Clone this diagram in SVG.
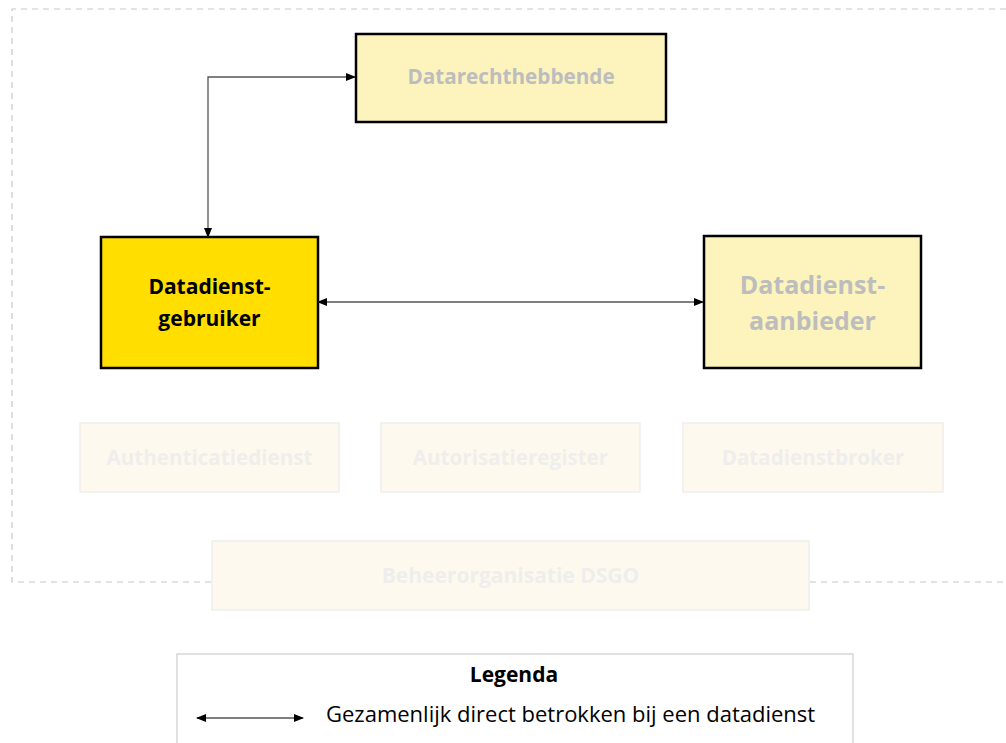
<svg xmlns="http://www.w3.org/2000/svg" width="1006" height="743" viewBox="0 0 1006 743">
<defs>
<style>
.main{stroke:#000;stroke-width:2.5}
.lite{fill:#FCF3BD}
.gold{fill:#FFDE00}
.faint{fill:#FDF9EE;stroke:#EEEEEE;stroke-width:1.5}
.t{font-family:"Open Sans","Liberation Sans",sans-serif;font-weight:bold;text-anchor:middle}
.grey{fill:#BDBDBD}
.ft{fill:#EFEEEC}
.conn{stroke:#555;stroke-width:1.3;fill:none}
</style>
<marker id="ah" markerWidth="10" markerHeight="8" refX="9" refY="4" orient="auto-start-reverse" markerUnits="userSpaceOnUse">
<path d="M0,0 L10,4 L0,8 Z" fill="#000"/>
</marker>
</defs>
<rect width="1006" height="743" fill="#fff"/>
<path d="M1006,9 H12 V582 H1006" fill="none" stroke="#C8C8C8" stroke-width="1.2" stroke-dasharray="6,5"/>

<g id="datarechthebbende">
<rect x="356" y="34" width="310" height="88" class="lite main"/>
<text x="511" y="84" class="t grey" font-size="20.7">Datarechthebbende</text>
</g>
<g id="datadienstgebruiker">
<rect x="101" y="237" width="217" height="131" class="gold main"/>
<text x="209.5" y="294" class="t" font-size="21">Datadienst-</text>
<text x="209.5" y="326" class="t" font-size="21">gebruiker</text>
</g>
<g id="datadienstaanbieder">
<rect x="704" y="236" width="217" height="132" class="lite main"/>
<text x="812.5" y="294" class="t grey" font-size="25">Datadienst-</text>
<text x="812.5" y="330" class="t grey" font-size="25">aanbieder</text>
</g>
<g id="authenticatiedienst">
<rect x="80" y="423" width="259" height="69" class="faint"/>
<text x="209.5" y="465" class="t ft" font-size="20.6">Authenticatiedienst</text>
</g>
<g id="autorisatieregister">
<rect x="381" y="423" width="259" height="69" class="faint"/>
<text x="510.5" y="465" class="t ft" font-size="20.6">Autorisatieregister</text>
</g>
<g id="datadienstbroker">
<rect x="683" y="423" width="260" height="69" class="faint"/>
<text x="813" y="465" class="t ft" font-size="20.6">Datadienstbroker</text>
</g>
<g id="beheerorganisatie">
<rect x="212" y="541" width="597" height="69" class="faint"/>
<text x="510.5" y="583" class="t ft" font-size="21">Beheerorganisatie DSGO</text>
</g>

<g id="connectors">
<path d="M208,237 V77 H355" class="conn" marker-start="url(#ah)" marker-end="url(#ah)"/>
<path d="M318,302 H703" class="conn" marker-start="url(#ah)" marker-end="url(#ah)"/>
</g>

<g id="legend">
<rect x="177" y="654" width="676" height="100" fill="#fff" stroke="#CCCCCC" stroke-width="1.2"/>
<text x="514" y="682" class="t" font-size="21" fill="#000">Legenda</text>
<path d="M197,718 H303" class="conn" marker-start="url(#ah)" marker-end="url(#ah)"/>
<text x="326" y="722" font-family="Open Sans, Liberation Sans, sans-serif" font-size="22" fill="#000">Gezamenlijk direct betrokken bij een datadienst</text>
</g>
</svg>
